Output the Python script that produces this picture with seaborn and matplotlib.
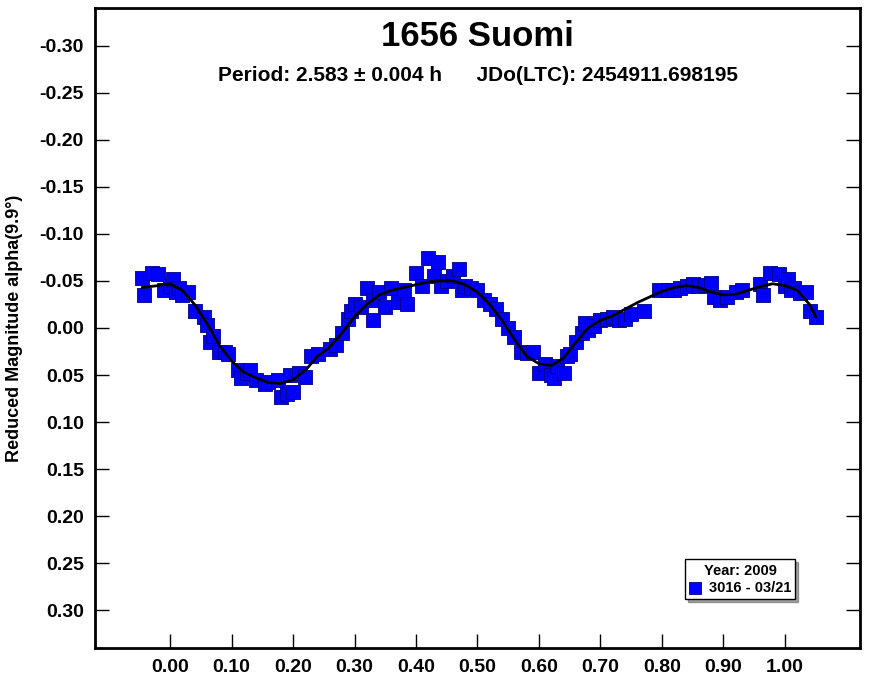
import matplotlib
matplotlib.use("Agg")
import matplotlib.pyplot as plt
import seaborn as sns
import pandas as pd

phase = [-0.045,-0.043,-0.03,-0.02,-0.01,0.00,0.005,0.01,0.015,0.02,0.03,0.04,0.055,0.06,0.065,0.07,0.08,0.09,0.095,
         0.11,0.115,0.125,0.13,0.14,0.155,0.16,0.175,0.18,0.19,0.195,0.2,0.21,0.22,0.23,0.24,0.26,0.27,0.28,0.29,0.295,
         0.30,0.31,0.32,0.33,0.33,0.34,0.35,0.36,0.37,0.38,0.385,0.40,0.41,0.42,0.43,0.435,0.44,0.45,0.46,0.47,0.475,
         0.48,0.49,0.50,0.51,0.52,0.53,0.54,0.55,0.56,0.57,0.58,0.59,0.60,0.61,0.62,0.625,0.63,0.64,0.645,0.65,0.66,
         0.67,0.675,0.68,0.69,0.70,0.71,0.72,0.73,0.74,0.75,0.77,0.795,0.81,0.82,0.83,0.84,0.85,0.86,0.87,0.88,0.885,
         0.895,0.905,0.92,0.93,0.96,0.965,0.975,0.99,1.00,1.005,1.01,1.015,1.025,1.035,1.04,1.05]
mag = [-0.053,-0.035,-0.058,-0.057,-0.040,-0.045,-0.052,-0.038,-0.042,-0.035,-0.038,-0.018,-0.012,-0.003,0.015,0.008,0.025,0.026,0.028,
       0.045,0.053,0.048,0.045,0.055,0.060,0.057,0.055,0.073,0.070,0.050,0.068,0.048,0.052,0.030,0.028,0.022,0.018,0.005,-0.010,-0.018,
       -0.025,-0.022,-0.042,-0.030,-0.008,-0.038,-0.022,-0.042,-0.028,-0.040,-0.025,-0.058,-0.045,-0.074,-0.055,-0.070,-0.045,-0.050,-0.055,-0.063,-0.040,
       -0.045,-0.042,-0.040,-0.030,-0.025,-0.020,-0.010,0.000,0.010,0.025,0.027,0.025,0.048,0.038,0.050,0.053,0.040,0.048,0.030,0.028,0.015,
       0.005,-0.005,0.002,-0.002,-0.008,-0.010,-0.012,-0.008,-0.010,-0.015,-0.018,-0.040,-0.040,-0.040,-0.043,-0.045,-0.047,-0.045,-0.046,-0.048,-0.033,
       -0.030,-0.033,-0.038,-0.040,-0.047,-0.035,-0.058,-0.057,-0.045,-0.052,-0.040,-0.043,-0.037,-0.038,-0.018,-0.012]

fit_phase = [-0.045,-0.02,0.0,0.02,0.04,0.06,0.08,0.10,0.12,0.14,0.16,0.18,0.20,0.22,0.24,0.26,0.28,0.30,0.32,0.34,0.36,0.38,
             0.40,0.42,0.44,0.46,0.48,0.50,0.52,0.54,0.56,0.58,0.60,0.62,0.64,0.66,0.68,0.70,0.72,0.74,0.76,0.78,0.80,0.82,
             0.84,0.86,0.88,0.90,0.92,0.94,0.96,0.98,1.00,1.02,1.04,1.05]
fit_mag = [-0.043,-0.045,-0.047,-0.040,-0.025,-0.005,0.018,0.035,0.047,0.053,0.058,0.059,0.055,0.045,0.030,0.020,0.005,-0.012,-0.025,-0.035,-0.040,-0.043,
           -0.046,-0.049,-0.050,-0.050,-0.046,-0.038,-0.025,-0.008,0.012,0.030,0.038,0.040,0.032,0.015,0.000,-0.008,-0.013,-0.020,-0.027,-0.033,-0.039,-0.043,
           -0.045,-0.043,-0.038,-0.035,-0.036,-0.040,-0.044,-0.047,-0.045,-0.040,-0.025,-0.012]

xticks = [0.0,0.1,0.2,0.3,0.4,0.5,0.6,0.7,0.8,0.9,1.0]
yticks = [-0.30,-0.25,-0.20,-0.15,-0.10,-0.05,0.00,0.05,0.10,0.15,0.20,0.25,0.30]

plt.rcParams["font.family"] = "Liberation Sans"
plt.rcParams["font.weight"] = "bold"
fig = plt.figure(figsize=(8.69, 6.79), dpi=100)
ax = fig.add_axes([95/869, 31/679, 765/869, 640/679])

df = pd.DataFrame({"phase": phase, "mag": mag})
fit = pd.DataFrame({"phase": fit_phase, "mag": fit_mag})
sns.lineplot(data=fit, x="phase", y="mag", ax=ax, color="black", lw=2, sort=False, zorder=3)
sns.scatterplot(data=df, x="phase", y="mag", ax=ax, marker="s", s=100, color="#0000ff",
                edgecolor="#000080", linewidth=0.6, zorder=2, label="3016 - 03/21")

ax.set_xlim(-0.122, 1.122)
ax.set_ylim(0.34, -0.34)
ax.set_xticks(xticks)
ax.set_xticklabels([f"{v:.2f}" for v in xticks])
ax.set_yticks(yticks)
ax.set_yticklabels([f"{v:.2f}" for v in yticks])
ax.tick_params(direction="in", length=10, width=1, labelsize=14, right=True, top=False, pad=8)
for lbl in ax.get_xticklabels() + ax.get_yticklabels():
    lbl.set_fontweight("bold")
for s in ax.spines.values():
    s.set_linewidth(2)
ax.set_xlabel("")
ax.set_ylabel("Reduced Magnitude alpha(9.9°)", fontsize=13, fontweight="bold", labelpad=12)

ax.text(0.5, 0.955, "1656 Suomi", transform=ax.transAxes, ha="center", va="center", fontsize=25, fontweight="bold")
ax.text(0.5, 0.895, "Period: 2.583 ± 0.004 h      JDo(LTC): 2454911.698195", transform=ax.transAxes,
        ha="center", va="center", fontsize=15, fontweight="bold")

leg = ax.legend(title="Year: 2009", loc="lower right", bbox_to_anchor=(0.925, 0.065), fancybox=False, shadow=True,
                framealpha=1, edgecolor="black", fontsize=10.5, title_fontsize=10.5,
                handlelength=0.8, handletextpad=0.5, borderpad=0.3, labelspacing=0.2, markerscale=0.8)
leg.get_title().set_fontweight("bold")
for t in leg.get_texts():
    t.set_fontweight("bold")
leg.get_frame().set_linewidth(1)

fig.savefig("out.png", dpi=100)
